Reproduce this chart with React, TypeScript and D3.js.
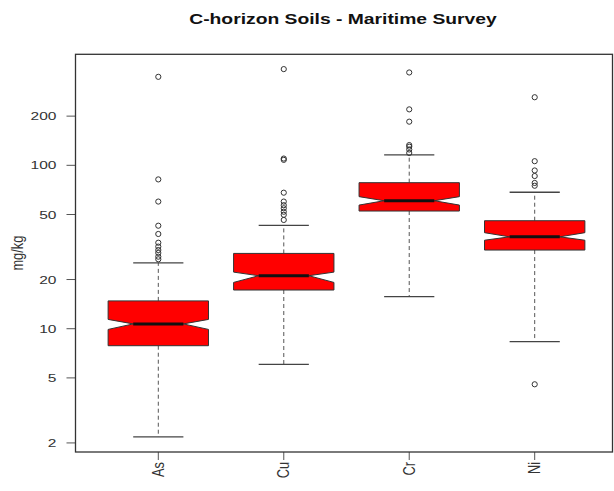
import * as d3 from "d3";

// five-number summaries (mg/kg)
const CATEGORIES = ["As", "Cu", "Cr", "Ni"];
const LOWER_WHISKER = [2.18, 6.05, 15.7, 8.33];
const Q1 = [7.87, 17.25, 52.5, 30.3];
const MEDIAN = [10.7, 21.1, 60.7, 36.5];
const Q3 = [14.8, 28.9, 78.3, 45.8];
const UPPER_WHISKER = [25.3, 42.9, 116, 68.4];
const NOTCH_LOW = [9.9, 19.2, 57.1, 34.8];
const NOTCH_HIGH = [11.4, 22.2, 64.3, 38.7];
const OUTLIERS = [
  [348, 82, 60, 42.7, 38, 33.6, 31.8, 30.3, 29.1, 27.6, 26.6],
  [388, 110, 108, 68, 60, 57, 54.6, 52, 49.8, 46.3],
  [370, 220, 185, 133, 130, 125, 119],
  [261, 106, 93, 86, 78, 75, 4.57],
];
const Y_TICKS = [2, 5, 10, 20, 50, 100, 200];

const W = 614;
const H = 491;
const plot = { left: 75.5, right: 612.5, top: 54.3, bottom: 452 };
const SX = 1.35; // horizontal stretch of the original raster
const FONT = "'Liberation Sans', Arial, sans-serif";

export default function App() {
  const x = d3
    .scalePoint<string>()
    .domain(CATEGORIES)
    .range([158.3, 534.7]);
  const step = x.step();
  const hw = step * 0.4;
  const y = d3.scaleLog().domain([1.76, 478]).range([plot.bottom, plot.top]);

  const boxes = CATEGORIES.map((c, i) => ({
    c,
    cx: x(c) ?? 0,
    lw: LOWER_WHISKER[i],
    q1: Q1[i],
    med: MEDIAN[i],
    q3: Q3[i],
    uw: UPPER_WHISKER[i],
    nl: NOTCH_LOW[i],
    nh: NOTCH_HIGH[i],
    out: OUTLIERS[i],
  }));

  const notchPath = (b: (typeof boxes)[number]) => {
    const l = b.cx - hw, r = b.cx + hw;
    const il = b.cx - hw / 2, ir = b.cx + hw / 2;
    const pts: [number, number][] = [
      [l, y(b.q3)], [r, y(b.q3)], [r, y(b.nh)], [ir, y(b.med)], [r, y(b.nl)],
      [r, y(b.q1)], [l, y(b.q1)], [l, y(b.nl)], [il, y(b.med)], [l, y(b.nh)],
    ];
    return d3.line()(pts) + "Z";
  };

  const midY = (plot.top + plot.bottom) / 2;

  return (
    <svg
      width={W}
      height={H}
      style={{ position: "absolute", left: 0, top: 0, background: "#fff" }}
      fontFamily={FONT}
    >
      <text
        transform={`translate(${(plot.left + plot.right) / 2 - 1},23.5) scale(${SX},1)`}
        textAnchor="middle"
        fontSize={14.3}
        fontWeight="bold"
        fill="#111"
      >
        C-horizon Soils - Maritime Survey
      </text>

      {/* y axis */}
      <g>
        {Y_TICKS.map((t) => (
          <g key={t}>
            <line x1={plot.left - 9} x2={plot.left} y1={y(t)} y2={y(t)} stroke="#555" />
            <text
              transform={`translate(${plot.left - 19},${y(t) + 4}) scale(${SX},1)`}
              textAnchor="end"
              fontSize={11.5}
              fill="#333"
            >
              {t}
            </text>
          </g>
        ))}
        <text
          transform={`translate(23,${midY}) scale(${SX},1) rotate(-90)`}
          textAnchor="middle"
          fontSize={12.8}
          fill="#333"
        >
          mg/kg
        </text>
      </g>

      {/* x axis */}
      <g>
        {boxes.map((b) => (
          <g key={b.c}>
            <line x1={b.cx} x2={b.cx} y1={plot.bottom} y2={plot.bottom + 8} stroke="#555" />
            <text
              transform={`translate(${b.cx + 5.5},${plot.bottom + 10}) scale(${SX},1) rotate(-90)`}
              textAnchor="end"
              fontSize={12.8}
              fill="#333"
            >
              {b.c}
            </text>
          </g>
        ))}
      </g>

      {/* boxes */}
      {boxes.map((b) => (
        <g key={b.c}>
          <line x1={b.cx} x2={b.cx} y1={y(b.q3)} y2={y(b.uw)} stroke="#555" strokeDasharray="4,3" />
          <line x1={b.cx} x2={b.cx} y1={y(b.q1)} y2={y(b.lw)} stroke="#555" strokeDasharray="4,3" />
          <line x1={b.cx - hw / 2} x2={b.cx + hw / 2} y1={y(b.uw)} y2={y(b.uw)} stroke="#444" strokeWidth={1.3} />
          <line x1={b.cx - hw / 2} x2={b.cx + hw / 2} y1={y(b.lw)} y2={y(b.lw)} stroke="#444" strokeWidth={1.3} />
          <path d={notchPath(b)} fill="#ff0000" stroke="#333" strokeWidth={1} />
          <line x1={b.cx - hw / 2} x2={b.cx + hw / 2} y1={y(b.med)} y2={y(b.med)} stroke="#111" strokeWidth={3} />
          {b.out.map((v, j) => (
            <circle key={j} cx={b.cx} cy={y(v)} r={2.6} fill="none" stroke="#333" strokeWidth={1} />
          ))}
        </g>
      ))}

      <rect
        x={plot.left}
        y={plot.top}
        width={plot.right - plot.left}
        height={plot.bottom - plot.top}
        fill="none"
        stroke="#333"
        strokeWidth={1.3}
      />
    </svg>
  );
}
